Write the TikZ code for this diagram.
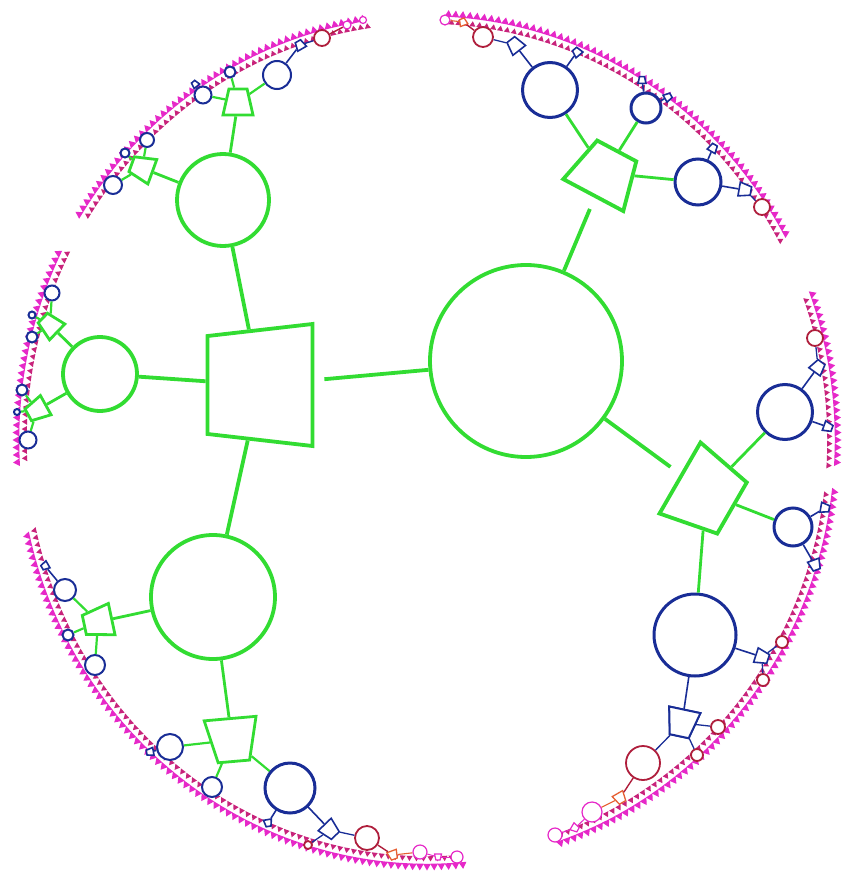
\documentclass[tikz,border=0pt]{standalone}
\usepackage{tikz}
\usetikzlibrary{shapes.geometric}
\definecolor{hgreen}{RGB}{50,220,50}
\definecolor{hblue}{RGB}{25,45,150}
\definecolor{hred}{RGB}{175,30,60}
\definecolor{horange}{RGB}{230,95,50}
\definecolor{hmag}{RGB}{230,40,200}

\begin{document}
\begin{tikzpicture}[x=1pt, y=-1pt,
  circ/.style={circle, inner sep=0pt, fill=white},
  trap/.style={trapezium, trapezium stretches=true, trapezium angle=72, inner sep=1pt, fill=white},
  gbig/.style={draw=hgreen, line width=3.8pt},
  gsml/.style={draw=hgreen, line width=2.8pt},
  bbig/.style={draw=hblue, line width=3pt},
  bsml/.style={draw=hblue, line width=2pt},
  rnod/.style={draw=hred, line width=1.8pt},
  onod/.style={draw=horange, line width=1.3pt},
  mnod/.style={draw=hmag, line width=1.2pt},
  ge/.style={hgreen, line width=3.8pt},
  gs/.style={hgreen, line width=2.8pt},
  be/.style={hblue, line width=2pt},
  re/.style={hred, line width=1.4pt},
  oe/.style={horange, line width=1.1pt},
  me/.style={hmag, line width=1pt}]
  \useasboundingbox (0,0) rectangle (848,880);

  \foreach \s/\e in {212/261, 177/206, 85/167, 7/71, -20/3, -87/-29}{
    \foreach \a in {\s,...,\e}{
      \node[regular polygon, regular polygon sides=3, fill=hmag, inner sep=0pt,
        minimum size=9pt, rotate=-\a-90] (rim\s\a) at ({427+410*cos(\a)},{440+426*sin(\a)}) {};
      \node[regular polygon, regular polygon sides=3, fill=hred!55!hmag, inner sep=0pt,
        minimum size=7pt, rotate=-\a-90] (rin\s\a) at ({427+402*cos(\a+0.5)},{440+418*sin(\a+0.5)}) {};
    }
  }

  \node[circ, gbig, minimum size=192pt] (c0) at (526,361) {};
  \node[trap, gbig, trapezium angle=83, minimum width=122pt, minimum height=105pt, rotate=90] (t1) at (260,385) {};
  \node[trap, gbig, trapezium angle=79, minimum width=82pt, minimum height=60pt, rotate=240] (t2) at (706,493) {};
  \node[trap, gbig, trapezium angle=75, minimum width=68pt, minimum height=50pt, rotate=-28] (t3) at (605,173) {};
  \draw[ge, shorten >=10pt] (c0) -- (t1);
  \draw[ge, shorten >=12pt] (c0) -- (t2);
  \draw[ge, shorten >=12pt] (c0) -- (t3);

  \node[circ, gbig, minimum size=92pt] (g1) at (223,200) {};
  \node[circ, gbig, minimum size=74pt] (g2) at (100,374) {};
  \node[circ, gbig, minimum size=124pt] (g3) at (213,597) {};
  \draw[ge] (t1) -- (g1); \draw[ge] (t1) -- (g2); \draw[ge] (t1) -- (g3);

  \node[circ, bbig, minimum size=55pt] (b1) at (550,90) {};
  \node[circ, bbig, minimum size=30pt] (b2) at (646,108) {};
  \node[circ, bbig, minimum size=46pt] (b3) at (698,182) {};
  \draw[gs] (t3) -- (b1); \draw[gs] (t3) -- (b2); \draw[gs] (t3) -- (b3);

  \node[circ, bbig, minimum size=55pt] (b4) at (785,412) {};
  \node[circ, bbig, minimum size=38pt] (b5) at (793,527) {};
  \node[circ, bbig, minimum size=82pt] (b6) at (695,635) {};
  \draw[gs] (t2) -- (b4); \draw[gs] (t2) -- (b5); \draw[gs] (t2) -- (b6);

  \node[trap, gsml, minimum width=30pt, minimum height=26pt] (gt1) at (238,102) {};
  \node[trap, gsml, minimum width=26pt, minimum height=22pt, rotate=70] (gt2) at (142,168) {};
  \node[trap, gsml, minimum width=22pt, minimum height=20pt, rotate=46] (gt3) at (50,325) {};
  \node[trap, gsml, minimum width=22pt, minimum height=20pt, rotate=119] (gt4) at (37,410) {};
  \node[trap, gsml, minimum width=32pt, minimum height=28pt, rotate=102] (gt5) at (98,622) {};
  \node[trap, gsml, minimum width=52pt, minimum height=43pt, rotate=185] (gt6) at (232,740) {};
  \draw[gs] (g1) -- (gt1); \draw[gs] (g1) -- (gt2);
  \draw[gs] (g2) -- (gt3); \draw[gs] (g2) -- (gt4);
  \draw[gs] (g3) -- (gt5); \draw[gs] (g3) -- (gt6);

  \foreach \n/\x/\y/\d/\p in {p1/277/75/28/gt1, p2/230/72/11/gt1, p3/203/95/17/gt1,
      p4/113/185/18/gt2, p5/125/153/9/gt2, p6/147/140/14/gt2,
      p7/52/293/15/gt3, p8/32/315/7/gt3, p9/32/337/11/gt3,
      p10/22/390/11/gt4, p11/17/412/6/gt4, p12/28/440/17/gt4,
      p13/65/590/22/gt5, p14/68/635/11/gt5, p15/95/665/20/gt5,
      p16/170/747/26/gt6, p17/212/787/20/gt6, p18/290/788/50/gt6}{
    \node[circ, bsml, minimum size=\d pt] (\n) at (\x,\y) {};
    \draw[gs, line width=2.2pt] (\p) -- (\n);
  }
  \node[circ, bbig, minimum size=50pt] at (p18) {};

  \foreach \n/\x/\y/\w/\r/\p in {q1/515/45/16/38/b1, q2/577/52/9/40/b1,
      q3/642/80/8/0/b2, q4/668/97/8/300/b2,
      q5/713/148/9/330/b3, q6/745/190/14/260/b3,
      q7/818/367/14/-36/b4, q8/828/427/10/250/b4,
      q9/825/508/10/260/b5, q10/815/565/12/200/b5,
      bt1/682/723/32/168/b6, q11/762/657/15/252/b6,
      q12/300/45/10/30/p1, q13/330/830/18/224/p18, q14/268/823/8/190/p18,
      q15/195/84/7/40/p3, q16/45/566/8/120/p13, q17/150/752/8/100/p16}{
    \node[trap, bsml, line width=1.6pt, minimum width=\w pt, minimum height=0.85*\w pt, rotate=\r] (\n) at (\x,\y) {};
    \draw[be, line width=1.6pt] (\p) -- (\n);
  }
  \node[trap, bsml, minimum width=32pt, minimum height=27pt, rotate=168] at (bt1) {};

  \foreach \n/\x/\y/\d/\p in {r1/483/37/20/q1, r2/762/207/16/q6, r3/815/338/16/q7,
      r4/643/763/34/bt1, r5/718/727/14/bt1, r6/697/755/12/bt1,
      r7/782/642/12/q11, r8/763/680/12/q11, r9/367/838/24/q13,
      r10/322/38/16/q12, r11/308/845/8/q13}{
    \node[circ, rnod, minimum size=\d pt] (\n) at (\x,\y) {};
    \draw[be, line width=1.3pt] (\p) -- (\n);
  }

  \foreach \n/\x/\y/\w/\r/\p in {o1/620/798/12/210/r4, o2/393/855/10/200/r9, o3/463/22/8/20/r1}{
    \node[trap, onod, minimum width=\w pt, minimum height=0.85*\w pt, rotate=\r] (\n) at (\x,\y) {};
    \draw[re] (\p) -- (\n);
  }

  \node[circ, mnod, minimum size=20pt] (m1) at (592,812) {};
  \node[trap, mnod, minimum width=8pt, minimum height=7pt, rotate=240] (m2) at (575,828) {};
  \node[circ, mnod, minimum size=14pt] (m3) at (555,835) {};
  \node[circ, mnod, minimum size=14pt] (m4) at (420,852) {};
  \node[trap, mnod, minimum width=7pt, minimum height=6pt, rotate=180] (m5) at (438,857) {};
  \node[circ, mnod, minimum size=12pt] (m6) at (457,857) {};
  \node[circ, mnod, minimum size=10pt] (m7) at (445,20) {};
  \node[circ, mnod, minimum size=8pt] (m8) at (347,25) {};
  \node[circ, mnod, minimum size=7pt] (m9) at (363,20) {};
  \draw[oe] (o1) -- (m1); \draw[me] (m1) -- (m2); \draw[me] (m2) -- (m3);
  \draw[oe] (o2) -- (m4); \draw[me] (m4) -- (m5); \draw[me] (m5) -- (m6);
  \draw[oe] (o3) -- (m7); \draw[re] (r10) -- (m8); \draw[me] (m8) -- (m9);
\end{tikzpicture}
\end{document}
